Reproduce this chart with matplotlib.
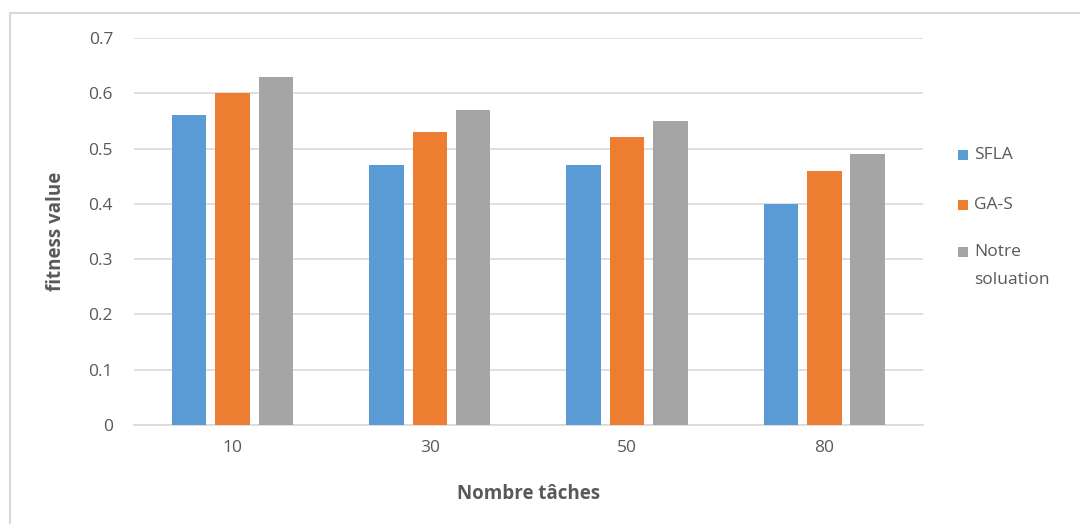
import matplotlib.pyplot as plt
import numpy as np
from matplotlib.lines import Line2D
from matplotlib.patches import Rectangle

tasks = ['10', '30', '50', '80']
sfla = [0.56, 0.47, 0.47, 0.40]
ga_s = [0.60, 0.53, 0.52, 0.46]
notre = [0.63, 0.57, 0.55, 0.49]

series = [
    ('SFLA', sfla, '#5B9BD5'),
    ('GA-S', ga_s, '#ED7D31'),
    ('Notre\nsoluation', notre, '#A5A5A5'),
]

txt = '#595959'
plt.rcParams['font.family'] = ['Open Sans', 'DejaVu Sans']

W, H = 1080, 524
fig = plt.figure(figsize=(W / 100, H / 100), dpi=100)
ax = fig.add_axes([0.124, 0.189, 0.7306, 0.7386])

x = np.arange(len(tasks))
width = 0.175
step = 0.22
for i, (name, vals, color) in enumerate(series):
    ax.bar(x + (i - 1) * step, vals, width, color=color, label=name, zorder=3)

ax.set_xlim(-0.5, len(tasks) - 0.5)
ax.set_ylim(0, 0.7)
ax.set_yticks(np.arange(0, 0.71, 0.1))
ax.set_yticklabels(['0'] + [f'{v:.1f}' for v in np.arange(0.1, 0.71, 0.1)])
ax.set_xticks(x)
ax.set_xticklabels(tasks)
ax.yaxis.grid(True, color='#D9D9D9', linewidth=1.2, zorder=0)
for s in ['top', 'right', 'left']:
    ax.spines[s].set_visible(False)
ax.spines['bottom'].set_color('#D9D9D9')
ax.spines['bottom'].set_linewidth(1.2)
ax.tick_params(axis='both', length=0, labelsize=12.5, colors=txt)
ax.tick_params(axis='y', pad=15)
ax.tick_params(axis='x', pad=11)

ax.set_xlabel('Nombre tâches', fontsize=13.5, fontweight='bold', color=txt, labelpad=20)
ax.set_ylabel('fitness value', fontsize=13.5, fontweight='bold', color=txt, labelpad=16)

# legend drawn by hand: square marker + label lines
legend_y = [155, 205, 252]
line_gap = 28
for (name, _, color), yc in zip(series, legend_y):
    fig.add_artist(Rectangle(((958) / W, 1 - (yc + 5) / H), 10 / W, 10 / H,
                             transform=fig.transFigure, color=color, lw=0))
    for k, line in enumerate(name.split('\n')):
        fig.text(974 / W, 1 - (yc + k * line_gap) / H, line, fontsize=12.5,
                 color=txt, va='center', ha='left')

# outer chart frame
fig.add_artist(Line2D([0.0093, 1.0], [0.976, 0.976], color='#D9D9D9', lw=1.5))
fig.add_artist(Line2D([0.0093, 0.0093], [0.0, 0.976], color='#D9D9D9', lw=1.5))

fig.savefig('out.png', dpi=100)
